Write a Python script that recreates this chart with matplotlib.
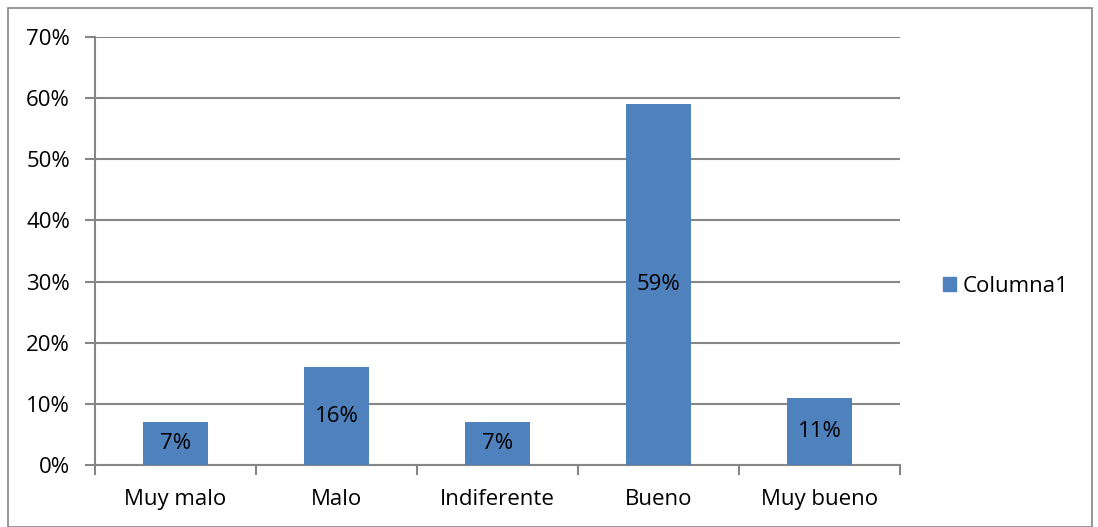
import matplotlib.pyplot as plt
import matplotlib.patches as mpatches
from matplotlib.ticker import PercentFormatter

categorias = ['Muy malo', 'Malo', 'Indiferente', 'Bueno', 'Muy bueno']
valores = [7, 16, 7, 59, 11]
serie = 'Columna1'

plt.rcParams['font.family'] = ['Open Sans', 'DejaVu Sans']
gris = '#868686'
azul = '#4F81BD'
fs = 16

fig = plt.figure(figsize=(10.98, 5.27), dpi=100)
ax = fig.add_axes([95 / 1098, 1 - 465 / 527, 805 / 1098, 428 / 527])

x = list(range(len(categorias)))
bars = ax.bar(x, valores, width=0.4, color=azul, label=serie, zorder=3)
for b, v in zip(bars, valores):
    ax.text(b.get_x() + b.get_width() / 2, v / 2, f'{v}%', ha='center', va='center',
            fontsize=fs, color='black', zorder=4)

ax.set_xlim(-0.5, len(categorias) - 0.5)
ax.set_ylim(0, 70)
ax.set_yticks(range(0, 71, 10))
ax.yaxis.set_major_formatter(PercentFormatter(decimals=0))
ax.yaxis.grid(True, color=gris, linewidth=1.5, zorder=0)
ax.set_axisbelow(True)

ax.set_xticks(x)
ax.set_xticklabels(categorias)
ax.set_xticks([i - 0.5 for i in range(len(categorias) + 1)], minor=True)
ax.tick_params(axis='x', which='major', length=0, pad=17, labelsize=fs)
ax.tick_params(axis='x', which='minor', length=7, width=1.5, color=gris)
ax.tick_params(axis='y', length=7, width=1.5, color=gris, labelsize=fs, pad=11)

for s in ['top', 'right']:
    ax.spines[s].set_visible(False)
for s in ['left', 'bottom']:
    ax.spines[s].set_color(gris)
    ax.spines[s].set_linewidth(1.5)

handle = mpatches.Patch(color=azul, label=serie)
fig.legend(handles=[handle], loc='center left', bbox_to_anchor=(923 / 1098, 1 - 286 / 527),
           frameon=False, fontsize=fs, handlelength=0.58, handleheight=0.58,
           handletextpad=0.3)

fig.patches.append(mpatches.Rectangle((8 / 1098, 0.0), 1084 / 1098, 1 - 8 / 527,
                                      transform=fig.transFigure, fill=False,
                                      edgecolor=gris, linewidth=1.2))

fig.savefig('out.png', dpi=100)
